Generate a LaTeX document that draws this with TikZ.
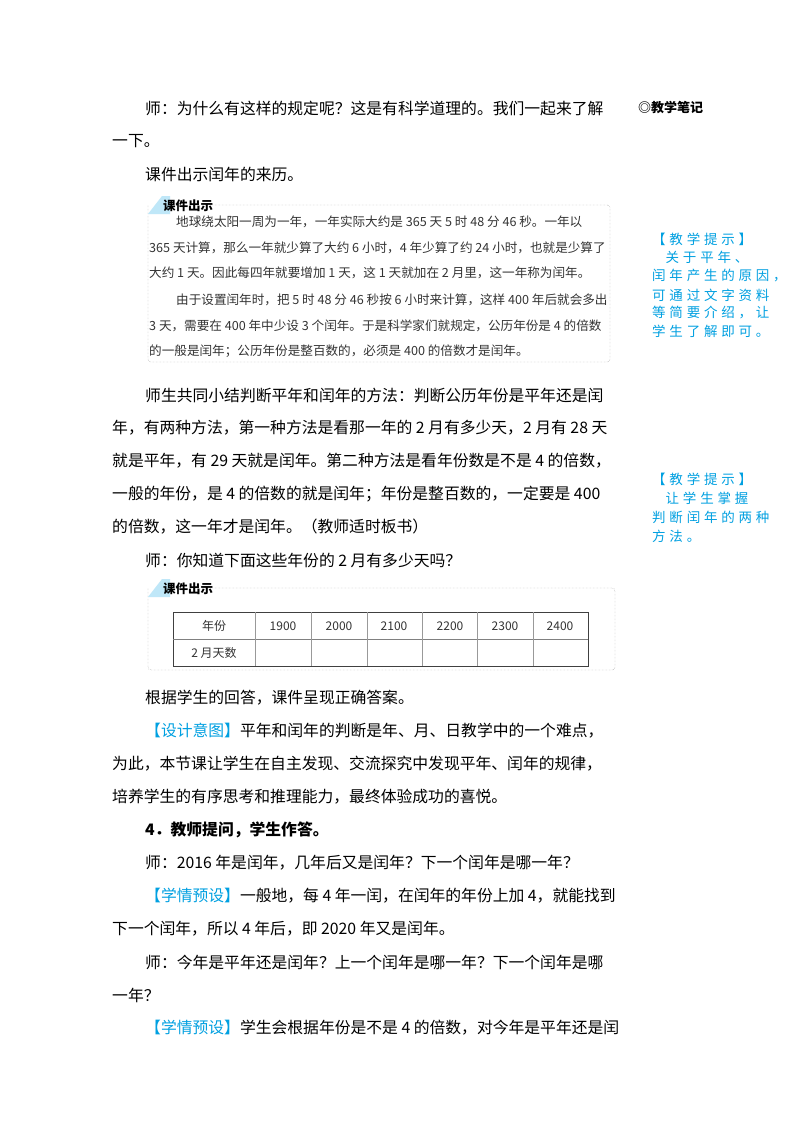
\documentclass[tikz,border=0pt]{standalone}
\usepackage{fontspec}
\setmainfont{Noto Sans CJK SC}
\newfontfamily\cjk{Noto Sans CJK SC}
\definecolor{tipblue}{RGB}{0,160,225}
\tikzset{
  body/.style={anchor=west, inner sep=0pt, font=\cjk\fontsize{15.8}{16}\selectfont},
  small/.style={anchor=west, inner sep=0pt, font=\cjk\fontsize{12.6}{13}\selectfont, text=black!80},
  tip/.style={anchor=west, inner sep=0pt, text=tipblue, font=\cjk\fontsize{13.5}{14}\selectfont\addfontfeature{LetterSpace=28}},
  cell/.style={inner sep=0pt, font=\cjk\fontsize{12}{13}\selectfont, text=black!80},
  note box/.style={draw=black!45, densely dotted, rounded corners=3pt},
  tab/.style={font=\cjk\bfseries\fontsize{12.5}{13}\selectfont, anchor=west, inner sep=0pt}
}
\newcommand{\tag}[1]{\textcolor{tipblue}{#1}}
\begin{document}
\begin{tikzpicture}[x=1pt, y=-1pt]
\useasboundingbox[fill=white] (0,0) rectangle (800,1132);

% text before the first box
\node[body] (l1) at (145,108) {师：为什么有这样的规定呢？这是有科学道理的。我们一起来了解};
\node[body] (l2) at (112,141) {一下。};
\node[body] (l3) at (145,174) {课件出示闰年的来历。};
\node[anchor=west, inner sep=0pt, font=\cjk\bfseries\fontsize{13}{13}\selectfont] (notes) at (638,108) {◎教学笔记};

% first box
\draw[note box] (148,205) -- (148,362) -- (610,362) -- (610,205) -- (210,205);
\fill[tipblue!25] (148,214) -- (162,196) -- (170,196) -- (170,214) -- cycle;
\node[tab] (tab1) at (163,206) {课件出示};
\node[small] (b1) at (176,222) {地球绕太阳一周为一年，一年实际大约是 365 天 5 时 48 分 46 秒。一年以};
\node[small] (b2) at (149,248) {365 天计算，那么一年就少算了大约 6 小时，4 年少算了约 24 小时，也就是少算了};
\node[small] (b3) at (149,273) {大约 1 天。因此每四年就要增加 1 天，这 1 天就加在 2 月里，这一年称为闰年。};
\node[small] (b4) at (176,300) {由于设置闰年时，把 5 时 48 分 46 秒按 6 小时来计算，这样 400 年后就会多出};
\node[small] (b5) at (149,326) {3 天，需要在 400 年中少设 3 个闰年。于是科学家们就规定，公历年份是 4 的倍数};
\node[small] (b6) at (149,351) {的一般是闰年；公历年份是整百数的，必须是 400 的倍数才是闰年。};

% middle text
\node[body] (l4) at (145,395) {师生共同小结判断平年和闰年的方法：判断公历年份是平年还是闰};
\node[body] (l5) at (112,428) {年，有两种方法，第一种方法是看那一年的 2 月有多少天，2 月有 28 天};
\node[body] (l6) at (112,461) {就是平年，有 29 天就是闰年。第二种方法是看年份数是不是 4 的倍数，};
\node[body] (l7) at (112,494) {一般的年份，是 4 的倍数的就是闰年；年份是整百数的，一定要是 400};
\node[body] (l8) at (112,527) {的倍数，这一年才是闰年。（教师适时板书）};
\node[body] (l9) at (145,560) {师：你知道下面这些年份的 2 月有多少天吗？};

% second box with table
\draw[note box] (148,588) -- (148,670) -- (615,670) -- (615,588) -- (210,588);
\fill[tipblue!25] (148,597) -- (162,579) -- (170,579) -- (170,597) -- cycle;
\node[tab] (tab2) at (163,589) {课件出示};
\draw[black!75, thick] (173,612) rectangle (588,666);
\draw[black!50] (173,639) -- (588,639);
\foreach \x in {255,311,367,422,477,533} \draw[black!40] (\x,612) -- (\x,666);
\node[cell] (h0) at (214,626) {年份};
\foreach \x/\y in {283/1900,339/2000,394/2100,450/2200,505/2300,560/2400}
  \node[cell] (h\y) at (\x,626) {\y};
\node[cell] (r0) at (214,653) {2 月天数};

% lower text
\node[body] (l10) at (145,698) {根据学生的回答，课件呈现正确答案。};
\node[body] (l11) at (145,731) {\tag{【设计意图】}平年和闰年的判断是年、月、日教学中的一个难点，};
\node[body] (l12) at (112,764) {为此，本节课让学生在自主发现、交流探究中发现平年、闰年的规律，};
\node[body] (l13) at (112,797) {培养学生的有序思考和推理能力，最终体验成功的喜悦。};
\node[body, font=\cjk\bfseries\fontsize{15.8}{16}\selectfont] (l14) at (145,830) {4．教师提问，学生作答。};
\node[body] (l15) at (145,863) {师：2016 年是闰年，几年后又是闰年？下一个闰年是哪一年？};
\node[body] (l16) at (145,896) {\tag{【学情预设】}一般地，每 4 年一闰，在闰年的年份上加 4，就能找到};
\node[body] (l17) at (112,929) {下一个闰年，所以 4 年后，即 2020 年又是闰年。};
\node[body] (l18) at (145,962) {师：今年是平年还是闰年？上一个闰年是哪一年？下一个闰年是哪};
\node[body] (l19) at (112,995) {一年？};
\node[body] (l20) at (145,1028) {\tag{【学情预设】}学生会根据年份是不是 4 的倍数，对今年是平年还是闰};

% side notes
\node[tip] (t1) at (652,239) {【教学提示】};
\node[tip] (t2) at (652,257) {\quad 关于平年、};
\node[tip] (t3) at (652,276) {闰年产生的原因，};
\node[tip] (t4) at (652,295) {可通过文字资料};
\node[tip] (t5) at (652,313) {等简要介绍，让};
\node[tip] (t6) at (652,331) {学生了解即可。};
\node[tip] (t7) at (652,479) {【教学提示】};
\node[tip] (t8) at (652,498) {\quad 让学生掌握};
\node[tip] (t9) at (652,517) {判断闰年的两种};
\node[tip] (t10) at (652,536) {方法。};
\end{tikzpicture}
\end{document}
